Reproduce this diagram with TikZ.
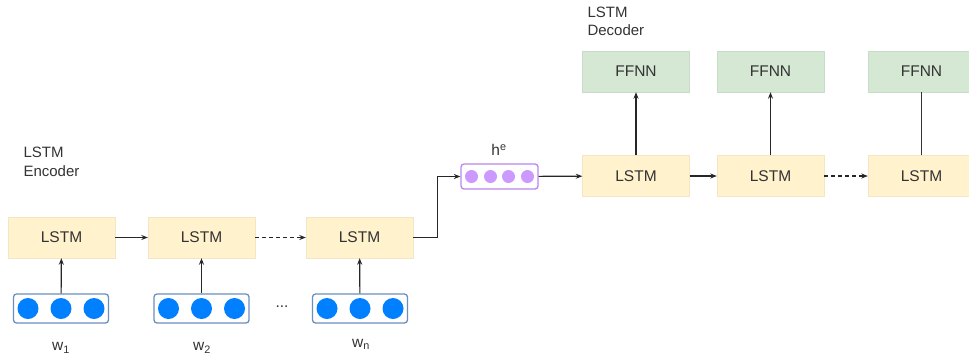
\documentclass[tikz,border=0pt]{standalone}
\usepackage{fontspec}
\setmainfont{Liberation Sans}
\usetikzlibrary{arrows.meta}
\definecolor{lstmfill}{HTML}{FFF2CC}
\definecolor{lstmdraw}{HTML}{F2E6C4}
\definecolor{ffnnfill}{HTML}{D5E8D4}
\definecolor{ffnndraw}{HTML}{CADCC9}
\definecolor{vecdraw}{HTML}{6C8EBF}
\definecolor{vecdot}{HTML}{007FFF}
\definecolor{hdraw}{HTML}{B985EE}
\definecolor{hdot}{HTML}{CC99FF}
\definecolor{txt}{HTML}{333333}
\begin{document}
\begin{tikzpicture}[x=1pt,y=-1pt,
  every node/.style={font=\fontsize{15.5}{18}\selectfont, text=txt},
  lstmbox/.style={draw=lstmdraw, fill=lstmfill, minimum width=107pt, minimum height=41pt, inner sep=0pt},
  ffnnbox/.style={draw=ffnndraw, fill=ffnnfill, minimum width=107pt, minimum height=41pt, inner sep=0pt},
  vecbox/.style={draw=vecdraw, fill=white, rounded corners=3pt, line width=1.3pt, minimum width=95pt, minimum height=29pt, inner sep=0pt},
  hbox/.style={draw=hdraw, fill=white, rounded corners=3pt, line width=1.3pt, minimum width=77pt, minimum height=25pt, inner sep=0pt},
  vdot/.style={fill=vecdot},
  hdotst/.style={fill=hdot},
  conn/.style={draw=black!85, line width=1.2pt, -{Stealth[length=6.5pt,width=5pt]}},
  dconn/.style={conn, dash pattern=on 4pt off 3pt},
  plain/.style={draw=black!80, line width=1.2pt}
]
\useasboundingbox (0,0) rectangle (969,360);
\begin{scope}
\clip (0,0) rectangle (969,360);
% encoder
\node[lstmbox] (e1) at (61.5,237.5) {LSTM};
\node[lstmbox] (e2) at (201.5,237.5) {LSTM};
\node[lstmbox] (e3) at (359.5,237.5) {LSTM};
\node[vecbox] (v1) at (61,308.5) {};
\node[vecbox] (v2) at (201.5,308.5) {};
\node[vecbox] (v3) at (360,308.5) {};
\foreach \v in {v1,v2,v3}{
  \foreach \dx in {-33,0,33}{
    \fill[vdot] ([xshift=\dx pt]\v.center) circle (10.5pt);
  }
}
\node (w1) at (61,348) {w\textsubscript{1}};
\node (w2) at (202,348) {w\textsubscript{2}};
\node (wn) at (361,344) {w\textsubscript{n}};
\node (dots) at (282,307) {...};
\node[align=left, anchor=north west, font=\fontsize{15}{19}\selectfont] (enclab) at (20,143) {LSTM\\Encoder};
% h^e
\node[hbox] (h) at (499.5,176.5) {};
\foreach \dx in {-28,-9,9,28}{
  \fill[hdotst] ([xshift=\dx pt]h.center) circle (6.5pt);
}
\node (hlab) at (499,150) {h\textsuperscript{e}};
% decoder
\node[lstmbox] (d1) at (636,176) {LSTM};
\node[lstmbox] (d2) at (770.5,176) {LSTM};
\node[lstmbox] (d3) at (921.5,176) {LSTM};
\node[ffnnbox] (f1) at (636,71.5) {FFNN};
\node[ffnnbox] (f2) at (770.5,71.5) {FFNN};
\node[ffnnbox] (f3) at (921.5,71.5) {FFNN};
\node[align=left, anchor=north west, font=\fontsize{15}{18}\selectfont] (declab) at (584,3) {LSTM\\Decoder};
% connectors
\draw[conn] (v1) -- (e1);
\draw[conn] (v2) -- (e2);
\draw[conn] (v3) -- (e3);
\draw[conn] (e1) -- (e2);
\draw[dconn] (e2) -- (e3);
\draw[conn] (e3.east) -- ++(24,0) |- (h.west);
\draw[conn] (h) -- (d1);
\draw[conn] (d1) -- (d2);
\draw[dconn] (d2) -- (d3);
\draw[conn] (d1) -- (f1);
\draw[conn] (d2) -- (f2);
\draw[plain] (d3) -- (f3);
\end{scope}
\end{tikzpicture}
\end{document}
